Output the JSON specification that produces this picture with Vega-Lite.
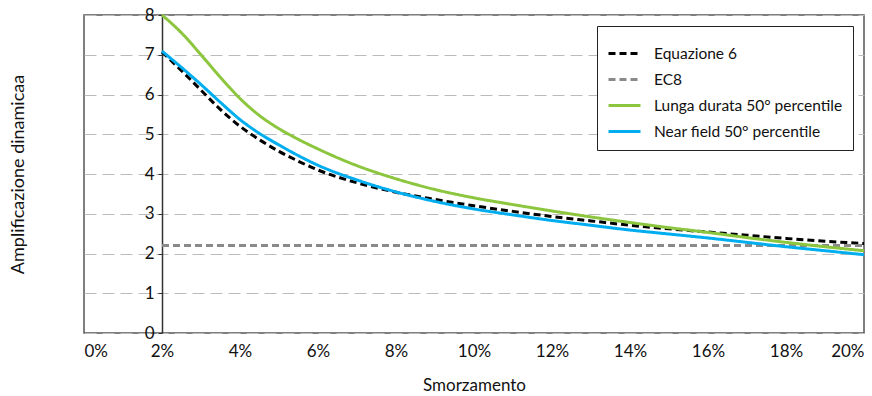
{
  "$schema": "https://vega.github.io/schema/vega-lite/v6.json",
  "width": 780,
  "height": 318,
  "autosize": {"type": "none"},
  "padding": {"left": 84, "top": 15, "right": 8, "bottom": 63},
  "config": {
    "font": "Lato",
    "view": {"stroke": "#555555", "strokeWidth": 1.5},
    "axis": {"labelFont": "Lato", "titleFont": "Lato", "labelFontSize": 17, "titleFontSize": 17, "labelColor": "#111111", "titleColor": "#111111", "titleFontWeight": "normal"},
    "legend": {"labelFont": "Lato", "labelFontSize": 15.5, "labelColor": "#111111", "labelLimit": 400}
  },
  "data": {
    "values": [
      {"s": "Equazione 6", "x": 2, "y": 7.07},
      {"s": "Equazione 6", "x": 2.5, "y": 6.6},
      {"s": "Equazione 6", "x": 3, "y": 6.11},
      {"s": "Equazione 6", "x": 3.5, "y": 5.62},
      {"s": "Equazione 6", "x": 4, "y": 5.2},
      {"s": "Equazione 6", "x": 4.5, "y": 4.86},
      {"s": "Equazione 6", "x": 5, "y": 4.57},
      {"s": "Equazione 6", "x": 5.5, "y": 4.32},
      {"s": "Equazione 6", "x": 6, "y": 4.1},
      {"s": "Equazione 6", "x": 7, "y": 3.78},
      {"s": "Equazione 6", "x": 8, "y": 3.54},
      {"s": "Equazione 6", "x": 9, "y": 3.36},
      {"s": "Equazione 6", "x": 10, "y": 3.2},
      {"s": "Equazione 6", "x": 11, "y": 3.06},
      {"s": "Equazione 6", "x": 12, "y": 2.93},
      {"s": "Equazione 6", "x": 13, "y": 2.82},
      {"s": "Equazione 6", "x": 14, "y": 2.71},
      {"s": "Equazione 6", "x": 15, "y": 2.62},
      {"s": "Equazione 6", "x": 16, "y": 2.54},
      {"s": "Equazione 6", "x": 17, "y": 2.46},
      {"s": "Equazione 6", "x": 18, "y": 2.38},
      {"s": "Equazione 6", "x": 19, "y": 2.31},
      {"s": "Equazione 6", "x": 20, "y": 2.25},
      {"s": "EC8", "x": 2, "y": 2.2},
      {"s": "EC8", "x": 20, "y": 2.2},
      {"s": "Lunga durata 50° percentile", "x": 2, "y": 8.0},
      {"s": "Lunga durata 50° percentile", "x": 2.5, "y": 7.55},
      {"s": "Lunga durata 50° percentile", "x": 3, "y": 7.0},
      {"s": "Lunga durata 50° percentile", "x": 3.5, "y": 6.43},
      {"s": "Lunga durata 50° percentile", "x": 4, "y": 5.9},
      {"s": "Lunga durata 50° percentile", "x": 4.5, "y": 5.47},
      {"s": "Lunga durata 50° percentile", "x": 5, "y": 5.14},
      {"s": "Lunga durata 50° percentile", "x": 5.5, "y": 4.87},
      {"s": "Lunga durata 50° percentile", "x": 6, "y": 4.63},
      {"s": "Lunga durata 50° percentile", "x": 7, "y": 4.21},
      {"s": "Lunga durata 50° percentile", "x": 8, "y": 3.88},
      {"s": "Lunga durata 50° percentile", "x": 9, "y": 3.61},
      {"s": "Lunga durata 50° percentile", "x": 10, "y": 3.4},
      {"s": "Lunga durata 50° percentile", "x": 11, "y": 3.23},
      {"s": "Lunga durata 50° percentile", "x": 12, "y": 3.07},
      {"s": "Lunga durata 50° percentile", "x": 13, "y": 2.92},
      {"s": "Lunga durata 50° percentile", "x": 14, "y": 2.78},
      {"s": "Lunga durata 50° percentile", "x": 15, "y": 2.65},
      {"s": "Lunga durata 50° percentile", "x": 16, "y": 2.53},
      {"s": "Lunga durata 50° percentile", "x": 17, "y": 2.4},
      {"s": "Lunga durata 50° percentile", "x": 18, "y": 2.28},
      {"s": "Lunga durata 50° percentile", "x": 19, "y": 2.17},
      {"s": "Lunga durata 50° percentile", "x": 20, "y": 2.07},
      {"s": "Near field 50° percentile", "x": 2, "y": 7.09},
      {"s": "Near field 50° percentile", "x": 2.5, "y": 6.68},
      {"s": "Near field 50° percentile", "x": 3, "y": 6.25},
      {"s": "Near field 50° percentile", "x": 3.5, "y": 5.8},
      {"s": "Near field 50° percentile", "x": 4, "y": 5.37},
      {"s": "Near field 50° percentile", "x": 4.5, "y": 5.02},
      {"s": "Near field 50° percentile", "x": 5, "y": 4.73},
      {"s": "Near field 50° percentile", "x": 5.5, "y": 4.46},
      {"s": "Near field 50° percentile", "x": 6, "y": 4.22},
      {"s": "Near field 50° percentile", "x": 7, "y": 3.85},
      {"s": "Near field 50° percentile", "x": 8, "y": 3.55},
      {"s": "Near field 50° percentile", "x": 9, "y": 3.31},
      {"s": "Near field 50° percentile", "x": 10, "y": 3.12},
      {"s": "Near field 50° percentile", "x": 11, "y": 2.97},
      {"s": "Near field 50° percentile", "x": 12, "y": 2.83},
      {"s": "Near field 50° percentile", "x": 13, "y": 2.71},
      {"s": "Near field 50° percentile", "x": 14, "y": 2.59},
      {"s": "Near field 50° percentile", "x": 15, "y": 2.49},
      {"s": "Near field 50° percentile", "x": 16, "y": 2.39},
      {"s": "Near field 50° percentile", "x": 17, "y": 2.28},
      {"s": "Near field 50° percentile", "x": 18, "y": 2.17},
      {"s": "Near field 50° percentile", "x": 19, "y": 2.07},
      {"s": "Near field 50° percentile", "x": 20, "y": 1.97}
    ]
  },
  "mark": {"type": "line", "strokeWidth": 3, "interpolate": "monotone"},
  "encoding": {
    "x": {
      "field": "x", "type": "quantitative",
      "scale": {"domain": [0, 20], "nice": false},
      "axis": {"values": [0, 2, 4, 6, 8, 10, 12, 14, 16, 18, 20], "labelExpr": "datum.value + '%'", "ticks": false, "domain": false, "grid": false, "labelPadding": 10, "title": "Smorzamento", "titleY": 52, "titleBaseline": "middle"}
    },
    "y": {
      "field": "y", "type": "quantitative",
      "scale": {"domain": [0, 8], "nice": false},
      "axis": {"values": [0, 1, 2, 3, 4, 5, 6, 7, 8], "offset": -78, "domain": true, "domainColor": "#333333", "domainWidth": 1.5, "ticks": true, "tickSize": 4, "tickColor": "#333333", "labelPadding": 4, "grid": true, "gridColor": "#bbbbbb", "gridDash": [12, 6], "gridWidth": 1, "title": "Amplificazione dinamicaa", "titleX": -144, "titleY": 159, "titleAngle": 270, "titleAlign": "center", "titleBaseline": "middle", "titleFontSize": 18}
    },
    "color": {
      "field": "s", "type": "nominal",
      "scale": {"domain": ["Equazione 6", "EC8", "Lunga durata 50° percentile", "Near field 50° percentile"], "range": ["#000000", "#8a8a8a", "#8cc63e", "#00aeef"]},
      "legend": {"title": null, "orient": "none", "legendX": 513, "legendY": 11, "padding": 10, "strokeColor": "#222222", "fillColor": "#ffffff", "symbolType": "stroke", "symbolSize": 1024, "symbolStrokeWidth": 3, "labelOffset": 12, "rowPadding": -7}
    },
    "strokeDash": {
      "field": "s", "type": "nominal",
      "scale": {"domain": ["Equazione 6", "EC8", "Lunga durata 50° percentile", "Near field 50° percentile"], "range": [[7, 4], [7, 4], [1, 0], [1, 0]]},
      "legend": {"title": null, "orient": "none", "legendX": 513, "legendY": 11, "padding": 10, "strokeColor": "#222222", "fillColor": "#ffffff", "symbolType": "stroke", "symbolSize": 1024, "symbolStrokeWidth": 3, "labelOffset": 12, "rowPadding": -7}
    }
  }
}
